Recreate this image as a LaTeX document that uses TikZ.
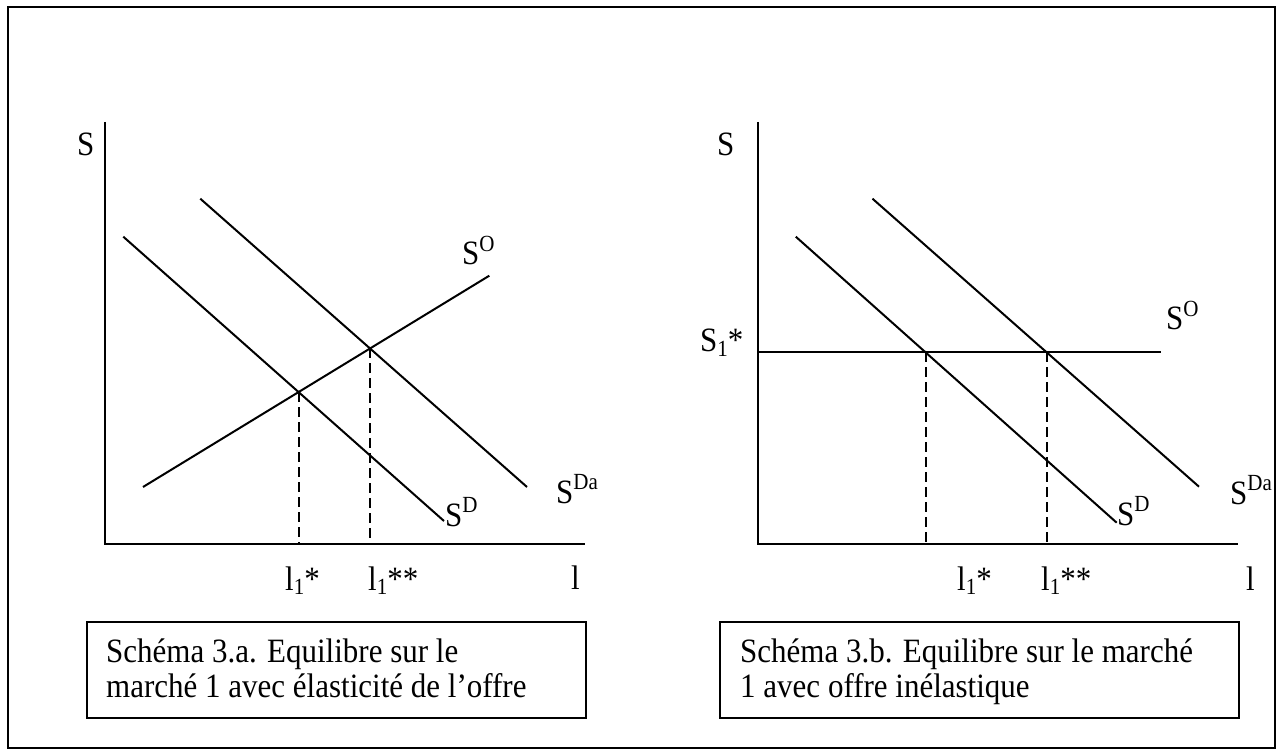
\documentclass[tikz,border=0pt]{standalone}
\usepackage{fontspec}
\usepackage{graphicx}
\setmainfont{Liberation Serif}
\usetikzlibrary{intersections}
\newcommand\supr[1]{\raisebox{12pt}{\fontsize{21}{21}\selectfont #1}}
\newcommand\subr[1]{\raisebox{-4pt}{\fontsize{21}{21}\selectfont #1}}
\newcommand\tall[1]{\scalebox{1}[1.1]{#1}}
\begin{document}
\begin{tikzpicture}[x=1pt,y=-1pt,
  lbl/.style={anchor=base west, inner sep=0pt, font=\fontsize{31}{35}\selectfont},
  curve/.style={line width=2pt},
  axis/.style={line width=2.4pt},
  guide/.style={line width=2pt, dash pattern=on 10pt off 5pt},
  frame/.style={draw, line width=2pt, inner sep=0pt, anchor=north west}]
\useasboundingbox (0,0) rectangle (1277,751);
\draw[line width=2.2pt] (8,7) rectangle (1275,748);

% ---------- left chart ----------
\coordinate (aTop) at (105,122);
\coordinate (aO) at (105,544);
\coordinate (aEnd) at (585,544);
\draw[axis] (aTop) -- (aO) -- (aEnd);
\coordinate (aD1) at (123.3,236.7);
\coordinate (aD2) at (444,521);
\coordinate (aA1) at (200.3,198.7);
\coordinate (aA2) at (527,487);
\coordinate (aS1) at (143,487);
\coordinate (aS2) at (489.3,275.7);
\draw[curve, name path=aD] (aD1) -- (aD2);
\draw[curve, name path=aA] (aA1) -- (aA2);
\draw[curve, name path=aS] (aS1) -- (aS2);
\path[name intersections={of=aD and aS, by=ai1}];
\path[name intersections={of=aA and aS, by=ai2}];
\draw[guide] (ai1) -- (ai1 |- aO);
\draw[guide] (ai2) -- (ai2 |- aO);
\node[lbl] (aSy) at (77,156) {\tall{S}};
\node[lbl] (aSO) at (462,265) {\tall{S\supr{O}}};
\node[lbl] (aSD) at (445,526) {\tall{S\supr{D}}};
\node[lbl] (aSDa) at (556,503) {\tall{S\supr{Da}}};
\node[lbl] (al1) at (285,590) {\tall{l\subr{1}*}};
\node[lbl] (al2) at (368,590) {\tall{l\subr{1}**}};
\node[lbl] (alx) at (571,589) {\tall{l}};

% ---------- right chart ----------
\coordinate (bTop) at (757.8,122);
\coordinate (bO) at (757.8,544);
\coordinate (bEnd) at (1238,544);
\draw[axis] (bTop) -- (bO) -- (bEnd);
\coordinate (bH1) at (757.8,352.3);
\coordinate (bH2) at (1161,352.3);
\coordinate (bD1) at (795.8,236.7);
\coordinate (bD2) at (1116.7,522.7);
\coordinate (bA1) at (872.5,198.7);
\coordinate (bA2) at (1199,486.7);
\draw[curve, name path=bS] (bH1) -- (bH2);
\draw[curve, name path=bD] (bD1) -- (bD2);
\draw[curve, name path=bA] (bA1) -- (bA2);
\path[name intersections={of=bD and bS, by=bi1}];
\path[name intersections={of=bA and bS, by=bi2}];
\draw[guide] (bi1) -- (bi1 |- bO);
\draw[guide] (bi2) -- (bi2 |- bO);
\node[lbl] (bSy) at (717,156) {\tall{S}};
\node[lbl] (bS1) at (700,352) {\tall{S\subr{1}*}};
\node[lbl] (bSO) at (1166,330) {\tall{S\supr{O}}};
\node[lbl] (bSD) at (1117,525) {\tall{S\supr{D}}};
\node[lbl] (bSDa) at (1230,504) {\tall{S\supr{Da}}};
\node[lbl] (bl1) at (957,590) {\tall{l\subr{1}*}};
\node[lbl] (bl2) at (1041,590) {\tall{l\subr{1}**}};
\node[lbl] (blx) at (1246,590) {\tall{l}};

% ---------- captions ----------
\node[frame, minimum width=499.4pt, minimum height=96.3pt] (capA) at (85.6,621) {};
\node[lbl] (capA1) at (106,662) {\tall{Schéma 3.a. Equilibre sur le}};
\node[lbl] (capA2) at (106,697) {\tall{marché 1 avec élasticité de l’offre}};
\node[frame, minimum width=519.4pt, minimum height=96pt] (capB) at (719,621) {};
\node[lbl] (capB1) at (740,662) {\tall{Schéma 3.b. Equilibre sur le marché}};
\node[lbl] (capB2) at (740,697) {\tall{1 avec offre inélastique}};
\end{tikzpicture}
\end{document}
